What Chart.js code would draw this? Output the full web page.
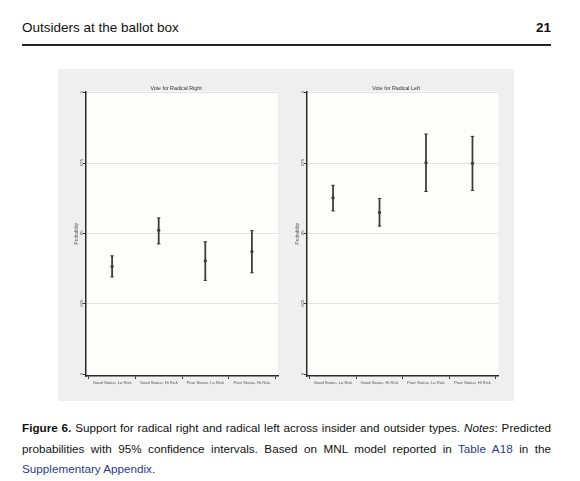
<!DOCTYPE html>
<html><head><meta charset="utf-8">
<script src="https://cdn.jsdelivr.net/npm/chart.js@4"></script>
<style>
html,body{margin:0;padding:0;background:#fff;}
body{width:580px;height:481px;position:relative;overflow:hidden;font-family:"Liberation Sans",Arial,sans-serif;color:#111;}
#hdr{position:absolute;left:22px;top:20px;width:529px;font-size:13.5px;line-height:16px;}
#hdr .pg{position:absolute;right:0;top:0;font-weight:bold;}
#rule{position:absolute;left:22px;top:44px;width:529px;height:2px;background:#222;}
#fig{position:absolute;left:58px;top:69px;width:456px;height:332px;background:#efefef;}
.cv{position:absolute;top:0;}
#cap{position:absolute;left:22px;top:418px;width:529px;font-size:11.7px;line-height:20.5px;}
#cap .j{text-align:justify;text-align-last:justify;white-space:nowrap;}
#cap .lk{color:#2b3a8c;}
</style>
</head><body>
<div id="hdr">Outsiders at the ballot box<span class="pg">21</span></div>
<div id="rule"></div>
<div id="fig">
  <canvas id="c1" class="cv" width="236" height="332" style="left:0px"></canvas>
  <canvas id="c2" class="cv" width="236" height="332" style="left:220px"></canvas>
</div>
<div id="cap">
  <div class="j"><b>Figure 6.</b> Support for radical right and radical left across insider and outsider types. <i>Notes</i>: Predicted</div>
  <div class="j">probabilities with 95% confidence intervals. Based on MNL model reported in <span class="lk">Table A18</span> in the</div>
  <div><span class="lk">Supplementary Appendix</span>.</div>
</div>
<script>
const categories = ["Good Status, Lo Risk", "Good Status, Hi Risk", "Poor Status, Lo Risk", "Poor Status, Hi Risk"];
const yTicks = [0, 0.025, 0.05, 0.075, 0.1];
const yTickLabels = ["0", ".025", ".05", ".075", ".1"];

const rightEst = [0.0382, 0.0511, 0.0402, 0.0435];
const rightLo  = [0.0345, 0.0463, 0.0333, 0.0360];
const rightHi  = [0.0420, 0.0555, 0.0470, 0.0510];

const leftEst = [0.0626, 0.0574, 0.0751, 0.0749];
const leftLo  = [0.0580, 0.0526, 0.0649, 0.0653];
const leftHi  = [0.0671, 0.0624, 0.0853, 0.0845];

Chart.defaults.font.family = "'Liberation Sans', Arial, sans-serif";

const plotBg = {
  id: 'plotBg',
  beforeDraw(chart) {
    const a = chart.chartArea, c = chart.ctx;
    c.save(); c.fillStyle = '#fdfdfb';
    c.fillRect(a.left, a.top, a.right - a.left, a.bottom - a.top);
    c.restore();
  }
};

function makeChart(id, title, est, lo, hi, yWidth, padRight, titlePad) {
  const xs = categories.map((c, i) => i + 1);
  const ink = '#3a3a3a';
  return new Chart(document.getElementById(id), {
    type: 'bar',
    data: {
      datasets: [
        { type: 'bar', data: xs.map((x, i) => ({ x: x, y: [lo[i], hi[i]] })),
          backgroundColor: ink, borderWidth: 0, barThickness: 1.1 },
        { type: 'scatter', data: xs.map((x, i) => ({ x: x, y: hi[i] })),
          pointStyle: 'line', pointRadius: 1.7, borderColor: ink, borderWidth: 1 },
        { type: 'scatter', data: xs.map((x, i) => ({ x: x, y: lo[i] })),
          pointStyle: 'line', pointRadius: 1.7, borderColor: ink, borderWidth: 1 },
        { type: 'scatter', data: xs.map((x, i) => ({ x: x, y: est[i] })),
          pointStyle: 'circle', pointRadius: 1.4, backgroundColor: ink, borderColor: ink, borderWidth: 0.5 }
      ]
    },
    options: {
      responsive: false, animation: false,
      layout: { padding: 0 },
      plugins: {
        legend: { display: false }, tooltip: { enabled: false },
        title: { display: true, text: title, color: '#333',
          font: { size: 5.3, weight: 'normal' }, padding: { top: 16, bottom: 0 } }
      },
      scales: {
        x: {
          type: 'linear', min: 0.44, max: 4.56, offset: false,
          afterBuildTicks: s => { s.ticks = xs.map(v => ({ value: v })); },
          afterFit: s => { s.height = 25; },
          ticks: { callback: (v) => categories[v - 1], font: { size: 4.1 }, color: '#555',
                   padding: 1, maxRotation: 0, minRotation: 0, autoSkip: false },
          grid: { drawOnChartArea: false, tickLength: 3, tickColor: ink, lineWidth: 1 },
          border: { color: '#2a2a2a', width: 1.5 }
        },
        y: {
          type: 'linear', min: -0.0007, max: 0.1005,
          afterBuildTicks: s => { s.ticks = yTicks.map(v => ({ value: v })); },
          afterFit: s => { s.width = yWidth; },
          ticks: { callback: (v, i) => yTickLabels[i], font: { size: 4.3 }, color: '#555',
                   minRotation: 90, maxRotation: 90, crossAlign: 'center', padding: -3.5, autoSkip: false },
          grid: { color: (ctx) => (ctx.tick && ctx.tick.value === 0) ? 'rgba(0,0,0,0)' : '#e2e2e2',
                  tickColor: ink, tickLength: 3, lineWidth: 1 },
          border: { color: '#2a2a2a', width: 1.5 },
          title: { display: true, text: 'Probability', color: '#555', font: { size: 4.6 },
                   padding: { top: titlePad, bottom: 0 } }
        },
        pad: {
          type: 'linear', position: 'right', display: true, min: 0, max: 1,
          afterFit: s => { s.width = padRight; },
          grid: { display: false, drawTicks: false }, border: { display: false },
          ticks: { display: false }
        }
      }
    },
    plugins: [plotBg]
  });
}

makeChart('c1', 'Vote for Radical Right', rightEst, rightLo, rightHi, 28, 16, 16);
makeChart('c2', 'Vote for Radical Left', leftEst, leftLo, leftHi, 29, 15.5, 16.7);
</script>
</body></html>
